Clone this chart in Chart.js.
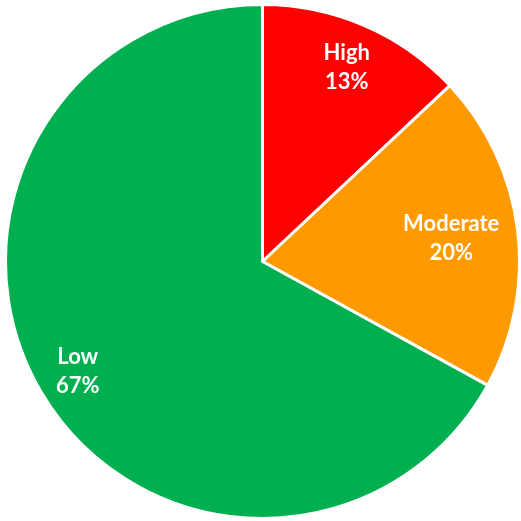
<!DOCTYPE html>
<html>
<head>
<meta charset="utf-8">
<script src="https://cdn.jsdelivr.net/npm/chart.js@4"></script>
<style>
html,body{margin:0;padding:0;background:#fff;}
canvas{display:block;}
</style>
</head>
<body>
<canvas id="c" width="521" height="521"></canvas>
<script>
const categories = ["High", "Moderate", "Low"];
const values = [13, 20, 67];
const colors = ["#FF0000", "#FF9900", "#00B050"];

const labelPlugin = {
  id: "sliceLabels",
  afterDatasetsDraw(chart, args, opts) {
    const ctx = chart.ctx;
    const meta = chart.getDatasetMeta(0);
    const total = values.reduce((a, b) => a + b, 0);
    ctx.save();
    ctx.fillStyle = "#FFFFFF";
    ctx.font = "bold 22px Lato, 'Liberation Sans', Arial, sans-serif";
    ctx.textAlign = "center";
    ctx.textBaseline = "middle";
    meta.data.forEach((arc, i) => {
      const p = arc.getProps(["x", "y", "startAngle", "endAngle", "outerRadius"], true);
      const mid = (p.startAngle + p.endAngle) / 2;
      const r = p.outerRadius * opts.fractions[i];
      const x = p.x + Math.cos(mid) * r;
      const y = p.y + Math.sin(mid) * r;
      const pct = Math.round(values[i] / total * 100) + "%";
      ctx.fillText(categories[i], x, y - 14);
      ctx.fillText(pct, x, y + 15);
    });
    ctx.restore();
  }
};

new Chart(document.getElementById("c"), {
  type: "pie",
  data: {
    labels: categories,
    datasets: [{
      data: values,
      backgroundColor: colors,
      borderColor: "#FFFFFF",
      borderWidth: 3
    }]
  },
  options: {
    responsive: false,
    animation: false,
    layout: { padding: { left: 4, right: 0, top: 2, bottom: 0 } },
    plugins: {
      legend: { display: false },
      tooltip: { enabled: false },
      sliceLabels: { fractions: [0.825, 0.74, 0.835] }
    }
  },
  plugins: [labelPlugin]
});
</script>
</body>
</html>
